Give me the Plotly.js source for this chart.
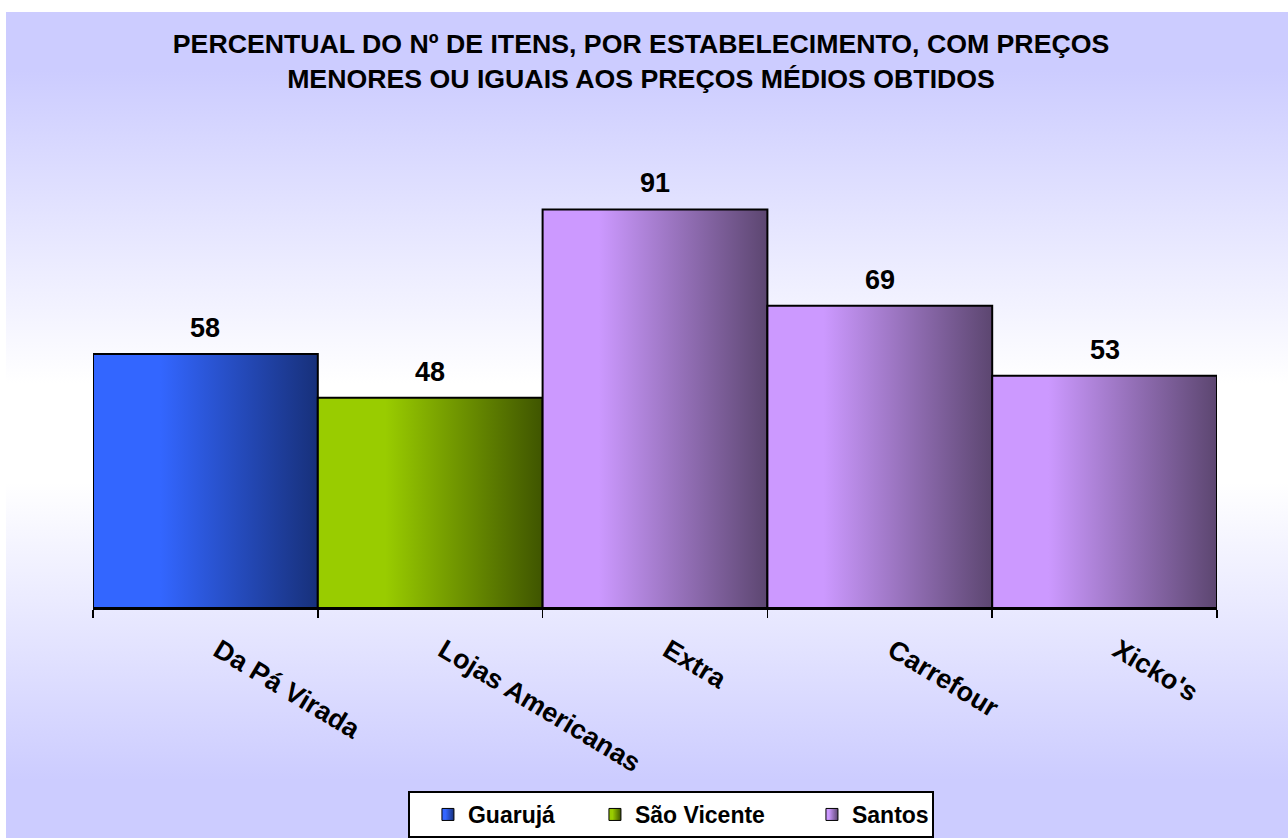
<!DOCTYPE html>
<html>
<head>
<meta charset="utf-8">
<script src="https://cdn.plot.ly/plotly-3.0.1.min.js"></script>
<style>
  html, body { margin: 0; padding: 0; background: #ffffff; }
  #wrap { position: relative; width: 1288px; height: 838px; background: #ffffff; overflow: hidden; }
  #bg { position: absolute; left: 6px; top: 12px; width: 1282px; height: 826px;
        background: linear-gradient(to bottom, #ccccff 0%, #ccccff 7%, #ffffff 45%, #ffffff 57%, #ccccff 93%, #ccccff 100%); }
  #chart { position: absolute; left: 0; top: 0; width: 1288px; height: 838px; }
</style>
</head>
<body>
<div id="wrap"><div id="bg"></div><div id="chart"></div></div>
<script>
// ---- data ----
const categories = ['Da Pá Virada', 'Lojas Americanas', 'Extra', 'Carrefour', "Xicko's"];
const guarujaCats = ['Da Pá Virada'];
const guarujaValues = [58];
const saoVicenteCats = ['Lojas Americanas'];
const saoVicenteValues = [48];
const santosCats = ['Extra', 'Carrefour', "Xicko's"];
const santosValues = [91, 69, 53];
const seriesNames = ['Guarujá', 'São Vicente', 'Santos'];
const chartTitle = 'PERCENTUAL DO Nº DE ITENS, POR ESTABELECIMENTO, COM PREÇOS<br>MENORES OU IGUAIS AOS PREÇOS MÉDIOS OBTIDOS';

// ---- styles ----
const FONT = '"Liberation Sans", Arial, Helvetica, sans-serif';
const gradients = [
  [['0', '#3366FF'], ['0.3', '#3366FF'], ['1', '#17307A']],
  [['0', '#99CC00'], ['0.3', '#99CC00'], ['1', '#3F5500']],
  [['0', '#CC99FF'], ['0.25', '#CC99FF'], ['1', '#5C4670']]
];
const baseColors = ['#3366FF', '#99CC00', '#CC99FF'];
const legendWidths = [104, 154, 75];

const seriesCats = [guarujaCats, saoVicenteCats, santosCats];
const seriesVals = [guarujaValues, saoVicenteValues, santosValues];

const data = seriesNames.map((name, i) => ({
  type: 'bar',
  name: name,
  x: seriesCats[i],
  y: seriesVals[i],
  marker: { color: baseColors[i], line: { color: '#000000', width: 2 } },
  legendwidth: legendWidths[i],
  hoverinfo: 'x+y'
}));

const annotations = [];
seriesCats.forEach((cats, i) => {
  cats.forEach((c, j) => {
    annotations.push({
      x: c, y: seriesVals[i][j], xref: 'x', yref: 'y',
      text: String(seriesVals[i][j]),
      showarrow: false, yanchor: 'bottom', yshift: 9,
      font: { family: FONT, size: 27, color: '#000000', weight: 'bold' }
    });
  });
});

const layout = {
  width: 1288, height: 838,
  paper_bgcolor: 'rgba(0,0,0,0)',
  plot_bgcolor: 'rgba(0,0,0,0)',
  margin: { l: 93, r: 71, t: 170, b: 230, autoexpand: false },
  barmode: 'overlay',
  bargap: 0,
  showlegend: true,
  title: {
    text: chartTitle,
    x: 0.4977, xanchor: 'center', xref: 'container',
    y: 0.937, yanchor: 'top', yref: 'container',
    font: { family: FONT, size: 26.7, color: '#000000', weight: 'bold' }
  },
  xaxis: {
    type: 'category',
    automargin: false,
    categoryorder: 'array', categoryarray: categories,
    showline: true, linecolor: '#000000', linewidth: 2,
    ticks: 'outside', tickson: 'boundaries', ticklen: 8, tickwidth: 1.5, tickcolor: '#000000',
    tickangle: 31,
    ticklabelstandoff: 14,
    ticklabelshift: 13,
    tickfont: { family: FONT, size: 27, color: '#000000', weight: 'bold' },
    showgrid: false, zeroline: false, fixedrange: true
  },
  yaxis: {
    range: [0, 100],
    automargin: false,
    visible: false, showgrid: false, zeroline: false, fixedrange: true
  },
  legend: {
    orientation: 'h',
    traceorder: 'normal',
    x: 0.2802, xanchor: 'left',
    y: -0.4178, yanchor: 'top',
    bgcolor: '#ffffff', bordercolor: '#000000', borderwidth: 2,
    indentation: 18,
    font: { family: FONT, size: 23, color: '#000000', weight: 'bold' }
  },
  annotations: annotations
};

const gd = document.getElementById('chart');
Plotly.newPlot(gd, data, layout, { staticPlot: true, displayModeBar: false }).then(function () {
  const ns = 'http://www.w3.org/2000/svg';
  const svg = gd.querySelector('svg.main-svg');
  let defs = svg.querySelector('defs');
  if (!defs) { defs = document.createElementNS(ns, 'defs'); svg.insertBefore(defs, svg.firstChild); }
  gradients.forEach((stops, i) => {
    const g = document.createElementNS(ns, 'linearGradient');
    g.setAttribute('id', 'barGrad' + i);
    g.setAttribute('x1', '0'); g.setAttribute('y1', '0');
    g.setAttribute('x2', '1'); g.setAttribute('y2', '0');
    stops.forEach(s => {
      const st = document.createElementNS(ns, 'stop');
      st.setAttribute('offset', s[0]);
      st.setAttribute('stop-color', s[1]);
      g.appendChild(st);
    });
    defs.appendChild(g);
  });
  gd.querySelectorAll('.barlayer .trace').forEach((tr, i) => {
    tr.querySelectorAll('path').forEach(p => { p.style.fill = 'url(#barGrad' + i + ')'; });
  });
  gd.querySelectorAll('.legend .traces').forEach((tr, i) => {
    tr.querySelectorAll('.legendpoints path').forEach(p => { p.style.fill = 'url(#barGrad' + i + ')'; p.style.strokeWidth = '1px'; });
  });
});
</script>
</body>
</html>
